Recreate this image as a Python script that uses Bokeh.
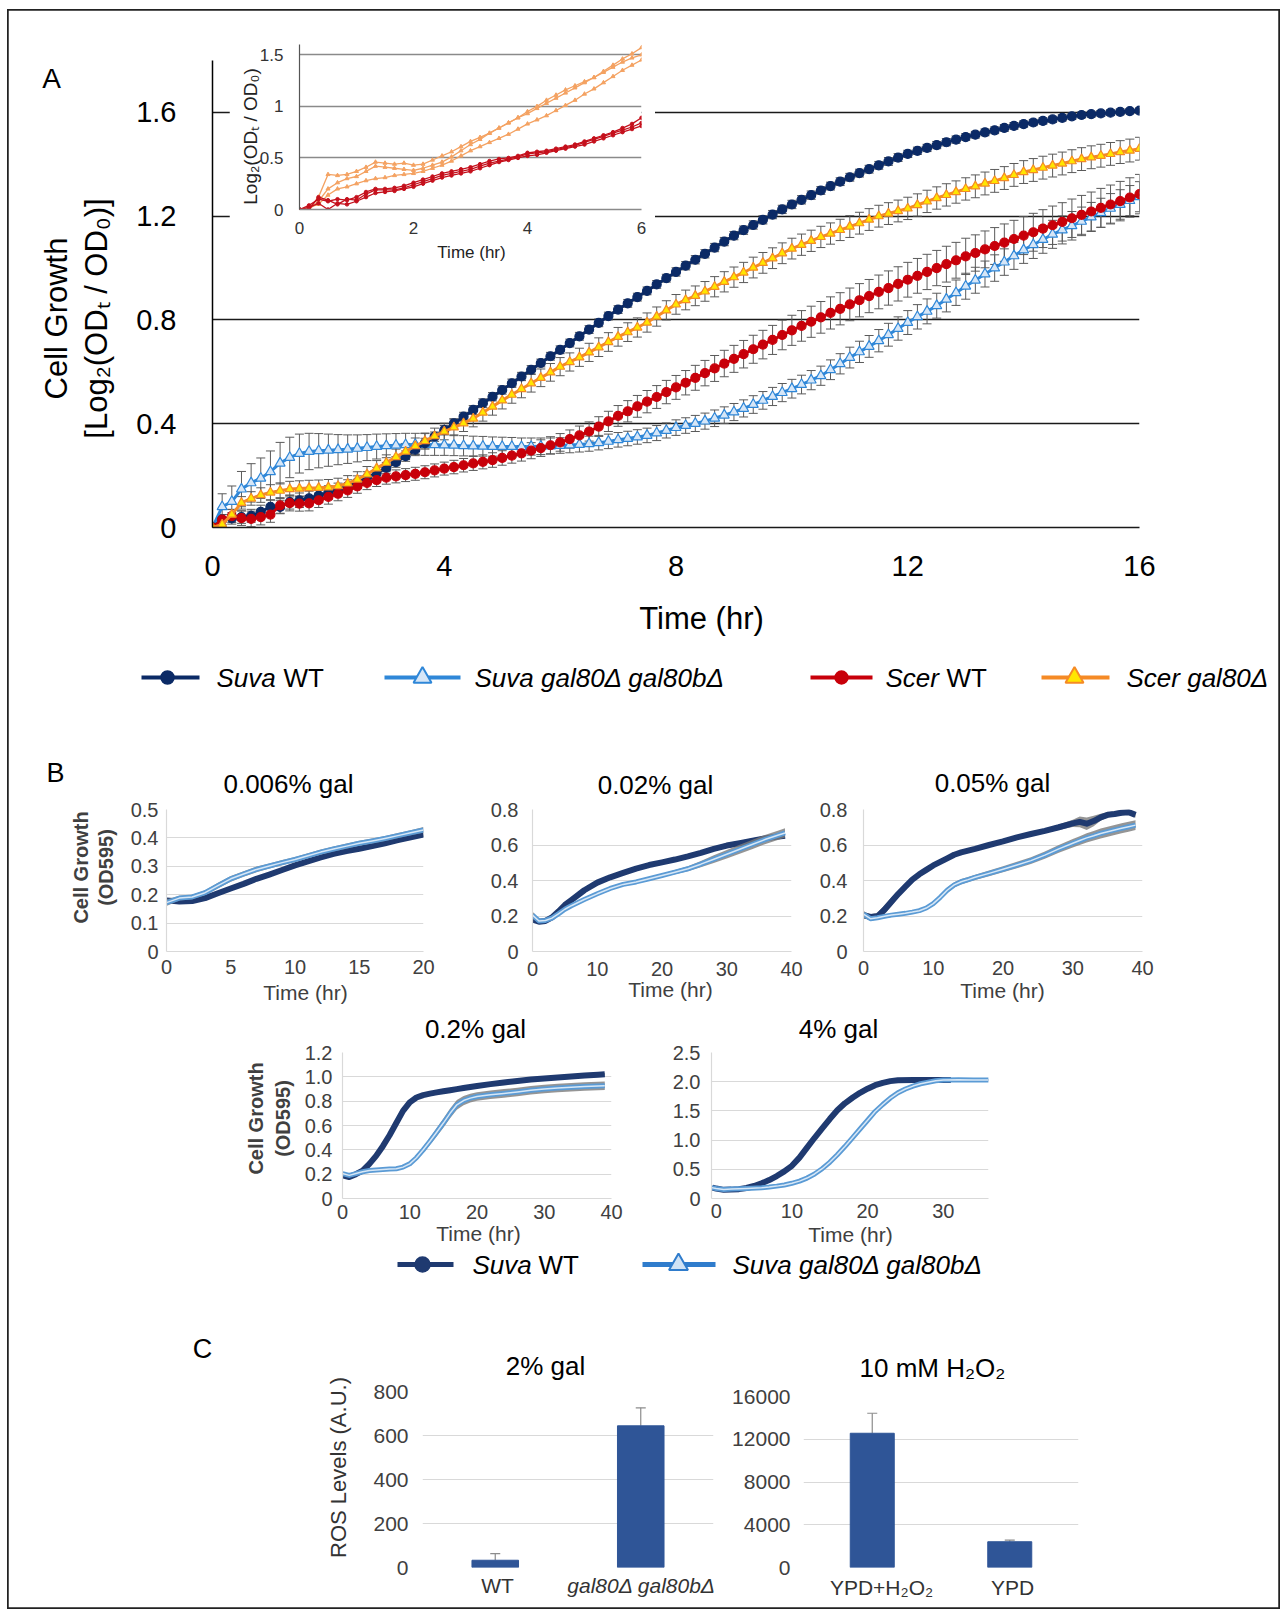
import numpy as np
from bokeh.plotting import figure
from bokeh.models import (Range1d, FactorRange, FixedTicker, ColumnDataSource,
                          Whisker, TeeHead, GridBox)
from bokeh.core.properties import value
from bokeh.embed import file_html
from bokeh.resources import INLINE

FONT = "Liberation Sans"
PAGE_W, PAGE_H = 1282, 1612          # layout box, starts at the page origin
OV_L, OV_T, OV_W, OV_H = 7, 9, 1273, 1600   # framed overlay (border of the figure)

# ======================= DATA =======================
# ---- Panel A (10-min readings, 0-16 h) ----
time_a = np.round(np.arange(97) / 6.0, 4)
a_xticks = [0, 4, 8, 12, 16]
a_yticks = [0, 0.4, 0.8, 1.2, 1.6]
a_ylabels = ["0", "0.4", "0.8", "1.2", "1.6"]

suva_wt = [0.000, 0.030, 0.035, 0.040, 0.045, 0.060, 0.080, 0.079, 0.098, 0.105,
           0.112, 0.123, 0.135, 0.146, 0.160, 0.175, 0.192, 0.210, 0.230, 0.252,
           0.275, 0.300, 0.325, 0.350, 0.375, 0.401, 0.427, 0.453, 0.479, 0.504,
           0.530, 0.556, 0.582, 0.608, 0.634, 0.660, 0.685, 0.711, 0.737, 0.763,
           0.789, 0.815, 0.840, 0.864, 0.888, 0.912, 0.937, 0.961, 0.985, 1.009,
           1.032, 1.055, 1.079, 1.102, 1.125, 1.146, 1.166, 1.186, 1.206, 1.226,
           1.245, 1.263, 1.281, 1.299, 1.316, 1.333, 1.350, 1.366, 1.381, 1.396,
           1.411, 1.426, 1.440, 1.452, 1.463, 1.474, 1.485, 1.495, 1.505, 1.514,
           1.523, 1.531, 1.540, 1.548, 1.555, 1.561, 1.567, 1.573, 1.579, 1.585,
           1.590, 1.593, 1.596, 1.599, 1.602, 1.605, 1.607]
suva_wt_err = [0.000, 0.020, 0.022, 0.024, 0.025, 0.026, 0.027, 0.026, 0.027, 0.028,
               0.028, 0.027, 0.026, 0.025, 0.024, 0.024, 0.023, 0.022, 0.021, 0.020,
               0.020, 0.019, 0.019, 0.018, 0.018, 0.018, 0.017, 0.017, 0.017, 0.016,
               0.016, 0.016, 0.016, 0.016, 0.015, 0.015, 0.015, 0.015, 0.015, 0.015,
               0.015, 0.015, 0.015, 0.015, 0.015, 0.015, 0.015, 0.015, 0.016, 0.016,
               0.016, 0.016, 0.016, 0.016, 0.016, 0.016, 0.016, 0.016, 0.016, 0.016,
               0.016, 0.016, 0.016, 0.015, 0.015, 0.015, 0.015, 0.015, 0.015, 0.015,
               0.015, 0.015, 0.014, 0.014, 0.014, 0.014, 0.014, 0.014, 0.013, 0.013,
               0.013, 0.013, 0.013, 0.013, 0.012, 0.012, 0.012, 0.012, 0.012, 0.012,
               0.011, 0.011, 0.011, 0.011, 0.011, 0.010, 0.010]

suva_gal80 = [0.000, 0.080, 0.100, 0.148, 0.172, 0.190, 0.215, 0.248, 0.270, 0.285,
              0.293, 0.296, 0.298, 0.300, 0.302, 0.305, 0.308, 0.312, 0.315, 0.317,
              0.319, 0.320, 0.320, 0.319, 0.318, 0.317, 0.315, 0.314, 0.313, 0.312,
              0.312, 0.312, 0.311, 0.312, 0.313, 0.314, 0.316, 0.318, 0.320, 0.323,
              0.327, 0.332, 0.338, 0.343, 0.349, 0.355, 0.364, 0.374, 0.385, 0.393,
              0.401, 0.410, 0.421, 0.433, 0.445, 0.459, 0.474, 0.490, 0.505, 0.520,
              0.535, 0.551, 0.568, 0.585, 0.608, 0.631, 0.655, 0.677, 0.698, 0.720,
              0.743, 0.767, 0.790, 0.812, 0.833, 0.855, 0.880, 0.905, 0.930, 0.953,
              0.977, 1.000, 1.023, 1.047, 1.070, 1.090, 1.110, 1.130, 1.147, 1.163,
              1.180, 1.197, 1.213, 1.230, 1.245, 1.260, 1.275]
suva_gal80_err = [0.000, 0.050, 0.060, 0.068, 0.074, 0.078, 0.080, 0.080, 0.078, 0.075,
                  0.070, 0.066, 0.062, 0.058, 0.055, 0.052, 0.050, 0.048, 0.046, 0.045,
                  0.044, 0.043, 0.042, 0.041, 0.040, 0.040, 0.039, 0.038, 0.038, 0.037,
                  0.036, 0.035, 0.034, 0.033, 0.032, 0.031, 0.030, 0.030, 0.029, 0.029,
                  0.028, 0.028, 0.028, 0.028, 0.028, 0.028, 0.029, 0.029, 0.030, 0.030,
                  0.031, 0.031, 0.032, 0.032, 0.033, 0.033, 0.034, 0.034, 0.035, 0.035,
                  0.036, 0.036, 0.037, 0.037, 0.038, 0.039, 0.040, 0.041, 0.042, 0.043,
                  0.044, 0.045, 0.046, 0.047, 0.048, 0.048, 0.049, 0.049, 0.050, 0.050,
                  0.050, 0.051, 0.051, 0.052, 0.052, 0.053, 0.053, 0.054, 0.054, 0.055,
                  0.055, 0.056, 0.056, 0.057, 0.057, 0.058, 0.058]

scer_wt = [0.000, 0.030, 0.044, 0.036, 0.033, 0.040, 0.050, 0.085, 0.094, 0.092,
           0.093, 0.105, 0.118, 0.130, 0.143, 0.158, 0.172, 0.183, 0.192, 0.197,
           0.202, 0.207, 0.213, 0.220, 0.227, 0.233, 0.240, 0.247, 0.253, 0.260,
           0.268, 0.277, 0.286, 0.296, 0.306, 0.317, 0.328, 0.341, 0.355, 0.370,
           0.389, 0.409, 0.430, 0.448, 0.467, 0.485, 0.503, 0.522, 0.540, 0.558,
           0.577, 0.595, 0.613, 0.632, 0.650, 0.668, 0.687, 0.705, 0.723, 0.742,
           0.760, 0.777, 0.793, 0.810, 0.827, 0.843, 0.860, 0.876, 0.892, 0.908,
           0.923, 0.939, 0.955, 0.970, 0.985, 1.000, 1.015, 1.030, 1.045, 1.058,
           1.072, 1.085, 1.098, 1.112, 1.125, 1.138, 1.152, 1.165, 1.178, 1.192,
           1.205, 1.218, 1.232, 1.245, 1.258, 1.272, 1.285]
scer_wt_err = [0.000, 0.020, 0.025, 0.028, 0.030, 0.030, 0.030, 0.030, 0.030, 0.029,
               0.029, 0.028, 0.028, 0.027, 0.027, 0.026, 0.026, 0.025, 0.025, 0.025,
               0.025, 0.025, 0.025, 0.025, 0.025, 0.026, 0.026, 0.027, 0.027, 0.028,
               0.028, 0.029, 0.030, 0.031, 0.032, 0.033, 0.034, 0.035, 0.036, 0.037,
               0.038, 0.039, 0.040, 0.041, 0.042, 0.043, 0.044, 0.045, 0.046, 0.047,
               0.048, 0.049, 0.050, 0.051, 0.052, 0.053, 0.054, 0.055, 0.056, 0.057,
               0.058, 0.059, 0.060, 0.061, 0.062, 0.062, 0.063, 0.064, 0.064, 0.065,
               0.066, 0.066, 0.067, 0.067, 0.068, 0.068, 0.069, 0.069, 0.070, 0.070,
               0.071, 0.071, 0.072, 0.072, 0.073, 0.073, 0.073, 0.074, 0.074, 0.074,
               0.075, 0.075, 0.075, 0.075, 0.076, 0.076, 0.076]

scer_gal80 = [0.000, 0.012, 0.050, 0.095, 0.112, 0.125, 0.135, 0.142, 0.148, 0.150,
              0.152, 0.153, 0.155, 0.160, 0.170, 0.185, 0.205, 0.228, 0.250, 0.272,
              0.293, 0.314, 0.333, 0.352, 0.370, 0.386, 0.402, 0.420, 0.443, 0.466,
              0.490, 0.512, 0.534, 0.556, 0.577, 0.598, 0.620, 0.638, 0.656, 0.675,
              0.695, 0.715, 0.735, 0.753, 0.771, 0.790, 0.813, 0.837, 0.860, 0.877,
              0.893, 0.910, 0.928, 0.947, 0.965, 0.983, 1.002, 1.020, 1.038, 1.057,
              1.075, 1.090, 1.105, 1.120, 1.133, 1.147, 1.160, 1.173, 1.187, 1.200,
              1.210, 1.220, 1.230, 1.243, 1.257, 1.270, 1.282, 1.293, 1.305, 1.315,
              1.326, 1.336, 1.347, 1.359, 1.370, 1.378, 1.387, 1.395, 1.403, 1.412,
              1.420, 1.427, 1.433, 1.440, 1.447, 1.453, 1.460]
scer_gal80_err = [0.000, 0.015, 0.020, 0.024, 0.026, 0.028, 0.030, 0.030, 0.030, 0.030,
                  0.030, 0.030, 0.030, 0.030, 0.030, 0.030, 0.030, 0.030, 0.030, 0.030,
                  0.031, 0.031, 0.031, 0.031, 0.032, 0.032, 0.032, 0.032, 0.033, 0.033,
                  0.033, 0.033, 0.034, 0.034, 0.034, 0.034, 0.035, 0.035, 0.035, 0.035,
                  0.036, 0.036, 0.036, 0.036, 0.037, 0.037, 0.037, 0.037, 0.038, 0.038,
                  0.038, 0.038, 0.039, 0.039, 0.039, 0.039, 0.040, 0.040, 0.040, 0.040,
                  0.040, 0.041, 0.041, 0.041, 0.041, 0.041, 0.042, 0.042, 0.042, 0.042,
                  0.042, 0.042, 0.043, 0.043, 0.043, 0.043, 0.043, 0.043, 0.043, 0.044,
                  0.044, 0.044, 0.044, 0.044, 0.044, 0.044, 0.044, 0.044, 0.044, 0.044,
                  0.044, 0.044, 0.044, 0.044, 0.044, 0.044, 0.044]

# ---- Panel A inset (single replicates, 0-6 h) ----
time_inset = np.round(np.arange(37) / 6.0, 4)
inset_xticks = [0, 2, 4, 6]
inset_yticks = [0, 0.5, 1, 1.5]
inset_ylabels = ["0", "0.5", "1", "1.5"]
scer_gal80_rep1 = [0.00, 0.01, 0.12, 0.34, 0.33, 0.34, 0.37, 0.41, 0.46, 0.45,
                   0.44, 0.45, 0.43, 0.44, 0.48, 0.52, 0.56, 0.61, 0.66, 0.70,
                   0.74, 0.79, 0.84, 0.89, 0.95, 1.00, 1.06, 1.11, 1.16, 1.20,
                   1.24, 1.28, 1.33, 1.38, 1.43, 1.47, 1.50]
scer_gal80_rep2 = [0.00, 0.00, 0.08, 0.20, 0.26, 0.30, 0.32, 0.37, 0.42, 0.41,
                   0.40, 0.39, 0.38, 0.40, 0.43, 0.46, 0.51, 0.57, 0.63, 0.68,
                   0.74, 0.79, 0.84, 0.89, 0.93, 0.98, 1.03, 1.08, 1.13, 1.18,
                   1.23, 1.28, 1.34, 1.40, 1.46, 1.51, 1.57]
scer_gal80_rep3 = [0.00, 0.02, 0.05, 0.14, 0.20, 0.22, 0.25, 0.28, 0.30, 0.31,
                   0.33, 0.34, 0.35, 0.37, 0.40, 0.43, 0.47, 0.52, 0.57, 0.61,
                   0.65, 0.69, 0.73, 0.78, 0.83, 0.87, 0.91, 0.96, 1.01, 1.06,
                   1.12, 1.17, 1.23, 1.29, 1.35, 1.40, 1.45]
scer_wt_rep1 = [0.00, 0.04, 0.10, 0.08, 0.10, 0.09, 0.12, 0.17, 0.20, 0.20,
                0.21, 0.23, 0.26, 0.29, 0.32, 0.35, 0.37, 0.39, 0.41, 0.44,
                0.47, 0.49, 0.50, 0.52, 0.55, 0.56, 0.57, 0.59, 0.61, 0.63,
                0.66, 0.69, 0.72, 0.75, 0.79, 0.83, 0.89]
scer_wt_rep2 = [0.00, 0.00, 0.12, 0.09, 0.05, 0.10, 0.09, 0.15, 0.19, 0.19,
                0.19, 0.21, 0.24, 0.27, 0.30, 0.33, 0.35, 0.37, 0.39, 0.42,
                0.45, 0.47, 0.49, 0.51, 0.54, 0.55, 0.56, 0.58, 0.60, 0.62,
                0.65, 0.68, 0.71, 0.74, 0.77, 0.80, 0.84]
scer_wt_rep3 = [0.00, 0.02, 0.06, 0.00, 0.06, 0.05, 0.08, 0.12, 0.16, 0.17,
                0.18, 0.20, 0.22, 0.25, 0.28, 0.31, 0.33, 0.35, 0.37, 0.40,
                0.43, 0.46, 0.48, 0.50, 0.52, 0.53, 0.55, 0.57, 0.59, 0.61,
                0.63, 0.66, 0.69, 0.72, 0.75, 0.78, 0.81]

# ---- Panel B (OD595 growth curves) ----
b1_time = [0, 1, 2, 3, 4, 5, 6, 7, 8, 9, 10, 11, 12, 13, 14, 15, 16, 17, 18, 19, 20]
b1_wt = [0.180, 0.176, 0.178, 0.188, 0.205, 0.222, 0.238, 0.256, 0.271, 0.287, 0.303,
         0.317, 0.331, 0.344, 0.354, 0.362, 0.371, 0.381, 0.392, 0.402, 0.412]
b1_wt_err = [0.008, 0.006, 0.006, 0.006, 0.007, 0.007, 0.007, 0.007, 0.007, 0.007, 0.007,
             0.007, 0.007, 0.007, 0.007, 0.007, 0.008, 0.008, 0.008, 0.008, 0.008]
b1_mut = [0.172, 0.188, 0.192, 0.207, 0.232, 0.256, 0.273, 0.289, 0.301, 0.313, 0.324,
          0.337, 0.350, 0.361, 0.371, 0.381, 0.389, 0.398, 0.408, 0.418, 0.428]
b1_mut_err = [0.012, 0.008, 0.008, 0.009, 0.010, 0.010, 0.010, 0.010, 0.009, 0.009, 0.009,
              0.009, 0.009, 0.009, 0.009, 0.009, 0.009, 0.009, 0.009, 0.009, 0.010]

b2_time = [0, 1, 2, 3, 4, 5, 6, 8, 10, 12, 14, 16, 18, 20, 22, 24, 26, 28, 30, 32, 34, 36, 38, 39]
b2_wt = [0.180, 0.168, 0.172, 0.192, 0.225, 0.262, 0.290, 0.345, 0.388, 0.418, 0.443, 0.467,
         0.487, 0.502, 0.518, 0.536, 0.556, 0.578, 0.597, 0.610, 0.624, 0.638, 0.648, 0.652]
b2_wt_err = [0.012, 0.008, 0.008, 0.008, 0.008, 0.008, 0.008, 0.008, 0.008, 0.008, 0.008, 0.008,
             0.008, 0.008, 0.008, 0.009, 0.010, 0.012, 0.014, 0.014, 0.014, 0.014, 0.014, 0.014]
b2_mut = [0.205, 0.172, 0.175, 0.188, 0.212, 0.238, 0.258, 0.293, 0.325, 0.355, 0.378, 0.392,
          0.410, 0.428, 0.447, 0.466, 0.492, 0.520, 0.548, 0.576, 0.604, 0.632, 0.656, 0.668]
b2_mut_err = [0.020, 0.010, 0.008, 0.008, 0.008, 0.008, 0.008, 0.008, 0.008, 0.008, 0.008, 0.008,
              0.008, 0.010, 0.012, 0.014, 0.018, 0.022, 0.024, 0.025, 0.026, 0.026, 0.026, 0.026]

b3_time = [0, 1, 2, 3, 4, 5, 6, 7, 8, 9, 10, 11, 12, 13, 14, 15, 16, 18, 20, 22, 24, 26, 28,
           30, 31, 32, 33, 34, 35, 36, 37, 38, 39]
b3_wt = [0.205, 0.195, 0.198, 0.235, 0.280, 0.325, 0.365, 0.405, 0.435, 0.460, 0.485,
         0.505, 0.525, 0.545, 0.558, 0.568, 0.578, 0.600, 0.620, 0.643, 0.662, 0.680,
         0.700, 0.722, 0.730, 0.720, 0.735, 0.756, 0.770, 0.775, 0.782, 0.785, 0.770]
b3_wt_err = [0.020, 0.015, 0.020, 0.025, 0.025, 0.020, 0.012, 0.010, 0.010, 0.010, 0.010,
             0.010, 0.010, 0.010, 0.010, 0.010, 0.010, 0.010, 0.010, 0.010, 0.010, 0.012,
             0.015, 0.020, 0.030, 0.035, 0.030, 0.020, 0.015, 0.015, 0.015, 0.015, 0.015]
b3_mut = [0.210, 0.185, 0.190, 0.198, 0.205, 0.210, 0.215, 0.222, 0.230, 0.245, 0.270,
          0.305, 0.345, 0.375, 0.393, 0.405, 0.418, 0.440, 0.463, 0.487, 0.512, 0.543,
          0.578, 0.610, 0.625, 0.640, 0.652, 0.665, 0.675, 0.685, 0.694, 0.703, 0.712]
b3_mut_err = [0.020, 0.012, 0.010, 0.010, 0.010, 0.010, 0.010, 0.010, 0.010, 0.010, 0.012,
              0.014, 0.015, 0.015, 0.015, 0.015, 0.015, 0.016, 0.017, 0.018, 0.019, 0.020,
              0.022, 0.024, 0.025, 0.026, 0.027, 0.028, 0.028, 0.028, 0.028, 0.028, 0.028]

b4_time = [0, 1, 2, 3, 4, 5, 6, 7, 8, 9, 10, 11, 12, 13, 14, 15, 16, 17, 18, 19, 20, 22,
           24, 26, 28, 30, 32, 34, 36, 38, 39]
b4_wt = [0.190, 0.176, 0.200, 0.230, 0.285, 0.350, 0.430, 0.520, 0.620, 0.720, 0.790,
         0.830, 0.850, 0.862, 0.872, 0.881, 0.890, 0.899, 0.908, 0.917, 0.925, 0.940,
         0.954, 0.966, 0.978, 0.987, 0.995, 1.002, 1.010, 1.018, 1.022]
b4_wt_err = [0.012, 0.008, 0.008, 0.008, 0.010, 0.010, 0.010, 0.010, 0.010, 0.010, 0.010,
             0.010, 0.010, 0.010, 0.010, 0.010, 0.010, 0.010, 0.010, 0.010, 0.010, 0.010,
             0.010, 0.010, 0.010, 0.010, 0.010, 0.010, 0.010, 0.010, 0.010]
b4_mut = [0.205, 0.190, 0.205, 0.220, 0.230, 0.235, 0.238, 0.242, 0.245, 0.258, 0.285,
          0.335, 0.400, 0.470, 0.545, 0.620, 0.700, 0.770, 0.805, 0.825, 0.838, 0.852,
          0.864, 0.876, 0.889, 0.900, 0.908, 0.915, 0.920, 0.925, 0.926]
b4_mut_err = [0.015, 0.010, 0.010, 0.010, 0.010, 0.010, 0.010, 0.010, 0.010, 0.012, 0.015,
              0.020, 0.025, 0.030, 0.035, 0.038, 0.040, 0.040, 0.038, 0.036, 0.035, 0.035,
              0.035, 0.035, 0.035, 0.035, 0.035, 0.035, 0.035, 0.035, 0.035]

b5_time_wt = [-0.5, 0, 1, 2, 3, 4, 5, 6, 7, 8, 9, 10, 11, 12, 13, 14, 15, 16, 17, 18, 19,
              20, 21, 22, 23, 24, 26, 28, 30, 31]
b5_wt = [0.186, 0.170, 0.148, 0.152, 0.160, 0.180, 0.214, 0.260, 0.315, 0.385, 0.465,
         0.560, 0.700, 0.870, 1.040, 1.200, 1.360, 1.510, 1.630, 1.725, 1.810, 1.880,
         1.940, 1.980, 2.010, 2.025, 2.030, 2.030, 2.030, 2.030]
b5_wt_err = [0.015, 0.012, 0.010, 0.010, 0.010, 0.010, 0.010, 0.010, 0.010, 0.010, 0.010,
             0.010, 0.010, 0.010, 0.010, 0.010, 0.010, 0.010, 0.010, 0.010, 0.010, 0.010,
             0.010, 0.010, 0.010, 0.010, 0.010, 0.010, 0.010, 0.010]
b5_time_mut = [-0.6, 0, 1, 2, 4, 6, 7, 8, 9, 10, 11, 12, 13, 14, 15, 16, 17, 18, 19, 20,
               21, 22, 23, 24, 25, 26, 27, 28, 29, 30, 32, 34, 36]
b5_mut = [0.186, 0.170, 0.155, 0.162, 0.172, 0.185, 0.197, 0.212, 0.232, 0.260, 0.298,
          0.350, 0.420, 0.510, 0.620, 0.750, 0.890, 1.040, 1.190, 1.340, 1.490, 1.610,
          1.720, 1.810, 1.875, 1.925, 1.965, 1.990, 2.015, 2.030, 2.035, 2.030, 2.030]
b5_mut_err = [0.015, 0.012, 0.010, 0.010, 0.010, 0.010, 0.010, 0.012, 0.014, 0.016, 0.018,
              0.020, 0.024, 0.028, 0.032, 0.036, 0.040, 0.042, 0.042, 0.040, 0.038, 0.035,
              0.030, 0.026, 0.022, 0.018, 0.015, 0.013, 0.012, 0.012, 0.012, 0.012, 0.012]

# ---- Panel C (ROS levels) ----
c1_labels = ["WT", "gal80\u0394 gal80b\u0394"]
c1_values = [33, 644]
c1_err = [30, 82]
c1_yticks = [0, 200, 400, 600, 800]
c2_labels = ["YPD+H\u2082O\u2082", "YPD"]
c2_values = [12560, 2410]
c2_err = [1875, 160]
c2_yticks = [0, 4000, 8000, 12000, 16000]

# ======================= STYLE =======================
NAVY_A = "#0b2a66"
BLUE_A = "#2f87d8"
BLUE_A_FILL = "#d6e6f7"
RED_A = "#c8000a"
ORANGE_A = "#f58a25"
YELLOW_A = "#ffe600"
ORANGE_IN = "#f4a262"
RED_IN = "#c5101c"
NAVY_B = "#1f3a70"
BLUE_B = "#5b9bd5"
BLUE_B_CORE = "#d7e7f6"
BAR_C = "#2f5597"
ERR_GRAY = "#5a5a5a"

placed = []


def chart(box, frame, x_range, y_range):
    left, top, right, bottom = box
    fl, ft, fr, fb = frame
    p = figure(width=right - left, height=bottom - top, x_range=x_range, y_range=y_range,
               min_border_left=fl - left, min_border_right=right - fr,
               min_border_top=ft - top, min_border_bottom=bottom - fb,
               toolbar_location=None, output_backend="svg", title=None)
    p.background_fill_alpha = 0
    p.border_fill_alpha = 0
    p.outline_line_color = None
    p.xgrid.visible = False
    p.axis.major_tick_out = 0
    p.axis.major_tick_in = 0
    p.axis.minor_tick_out = 0
    p.axis.minor_tick_in = 0
    p.axis.major_tick_line_color = None
    p.axis.minor_tick_line_color = None
    p.axis.major_label_text_font = FONT
    placed.append((p, left, top, right - left, bottom - top))
    return p


# ---------------- Panel A main ----------------
pa = chart((100, 40, 1160, 600), (212, 60, 1139, 527), Range1d(0, 16), Range1d(0, 1.8))
pa.xaxis.ticker = FixedTicker(ticks=a_xticks)
pa.yaxis.ticker = FixedTicker(ticks=a_yticks)
pa.yaxis.major_label_overrides = dict(zip(a_yticks, a_ylabels))
pa.ygrid.grid_line_color = "#1a1a1a"
pa.ygrid.grid_line_width = 1.5
pa.yaxis.axis_line_color = "#000000"
pa.yaxis.axis_line_width = 1.5
pa.xaxis.axis_line_color = "#1a1a1a"
pa.xaxis.axis_line_width = 1.5
pa.axis.major_label_text_font_size = "29px"
pa.axis.major_label_text_color = "#000000"
pa.xaxis.major_label_standoff = 28
pa.yaxis.major_label_standoff = 36


def a_series(y, err, color, marker, fill, size, edge):
    y = np.array(y)
    err = np.array(err)
    src = ColumnDataSource(dict(t=time_a, y=y, lo=y - err, hi=y + err))
    pa.add_layout(Whisker(source=src, base="t", lower="lo", upper="hi",
                          line_color=ERR_GRAY, line_width=1, level="underlay",
                          upper_head=TeeHead(size=9, line_color=ERR_GRAY, line_width=1),
                          lower_head=TeeHead(size=9, line_color=ERR_GRAY, line_width=1)))
    pa.line("t", "y", source=src, line_color=color, line_width=3)
    pa.scatter("t", "y", source=src, marker=marker, size=size, fill_color=fill,
               line_color=edge, line_width=1.2)


a_series(suva_gal80, suva_gal80_err, BLUE_A, "triangle", BLUE_A_FILL, 10, BLUE_A)
a_series(suva_wt, suva_wt_err, NAVY_A, "circle", NAVY_A, 9, NAVY_A)
a_series(scer_wt, scer_wt_err, RED_A, "circle", RED_A, 9, RED_A)
a_series(scer_gal80, scer_gal80_err, ORANGE_A, "triangle", YELLOW_A, 9, ORANGE_A)

# ---------------- Panel A inset ----------------
pi = chart((229, 36, 655, 263), (299, 44, 641, 209), Range1d(0, 6), Range1d(0, 1.6))
pi.background_fill_color = "white"
pi.background_fill_alpha = 1
pi.border_fill_color = "white"
pi.border_fill_alpha = 1
pi.xaxis.ticker = FixedTicker(ticks=inset_xticks)
pi.yaxis.ticker = FixedTicker(ticks=inset_yticks)
pi.yaxis.major_label_overrides = dict(zip(inset_yticks, inset_ylabels))
pi.ygrid.grid_line_color = "#8a8a8a"
pi.ygrid.grid_line_width = 1.5
pi.yaxis.axis_line_color = "#555555"
pi.yaxis.axis_line_width = 1.2
pi.xaxis.axis_line_color = "#8a8a8a"
pi.xaxis.axis_line_width = 1.5
pi.axis.major_label_text_font_size = "17px"
pi.axis.major_label_text_color = "#333333"
pi.xaxis.major_label_standoff = 12
pi.yaxis.major_label_standoff = 16

for rep in (scer_gal80_rep1, scer_gal80_rep2, scer_gal80_rep3):
    pi.line(time_inset, rep, line_color=ORANGE_IN, line_width=1.3)
    pi.scatter(time_inset, rep, marker="triangle", size=4, color=ORANGE_IN)
for rep in (scer_wt_rep1, scer_wt_rep2, scer_wt_rep3):
    pi.line(time_inset, rep, line_color=RED_IN, line_width=1.3)
    pi.scatter(time_inset, rep, marker="circle", size=3.5, color=RED_IN)


# ---------------- Panel B ----------------
def b_chart(box, frame, xr, yr, xticks, yticks, ylabels, xstand, ystand):
    p = chart(box, frame, Range1d(*xr), Range1d(*yr))
    p.xaxis.ticker = FixedTicker(ticks=xticks)
    p.yaxis.ticker = FixedTicker(ticks=yticks)
    p.yaxis.major_label_overrides = dict(zip(yticks, ylabels))
    p.ygrid.grid_line_color = "#d9d9d9"
    p.ygrid.grid_line_width = 1.2
    p.axis.axis_line_color = "#d9d9d9"
    p.axis.axis_line_width = 1.2
    p.axis.major_label_text_font_size = "20px"
    p.axis.major_label_text_color = "#404040"
    p.xaxis.major_label_standoff = xstand
    p.yaxis.major_label_standoff = ystand
    return p


def b_draw(p, t_wt, wt, wt_err, t_mut, mut, mut_err):
    wt = np.array(wt); wt_err = np.array(wt_err)
    mut = np.array(mut); mut_err = np.array(mut_err)
    p.varea(x=t_wt, y1=wt - wt_err, y2=wt + wt_err, fill_color="#7a7a7a", fill_alpha=0.8)
    p.line(t_wt, wt, line_color=NAVY_B, line_width=6, line_join="round")
    p.varea(x=t_mut, y1=mut - mut_err, y2=mut + mut_err, fill_color="#7a7a7a", fill_alpha=0.8)
    p.line(t_mut, mut, line_color=BLUE_B, line_width=5, line_join="round")
    p.line(t_mut, mut, line_color=BLUE_B_CORE, line_width=1.5, line_join="round")


b1 = b_chart((120, 790, 440, 985), (166, 809, 423, 952), (0, 20), (0, 0.5),
             [0, 5, 10, 15, 20], [0, 0.1, 0.2, 0.3, 0.4, 0.5],
             ["0", "0.1", "0.2", "0.3", "0.4", "0.5"], 8, 8)
b_draw(b1, b1_time, b1_wt, b1_wt_err, b1_time, b1_mut, b1_mut_err)

b2 = b_chart((480, 790, 810, 985), (532, 809, 791, 952), (0, 40), (0, 0.8),
             [0, 10, 20, 30, 40], [0, 0.2, 0.4, 0.6, 0.8],
             ["0", "0.2", "0.4", "0.6", "0.8"], 10, 14)
b_draw(b2, b2_time, b2_wt, b2_wt_err, b2_time, b2_mut, b2_mut_err)

b3 = b_chart((810, 790, 1165, 985), (863, 809, 1142, 951), (0, 40), (0, 0.8),
             [0, 10, 20, 30, 40], [0, 0.2, 0.4, 0.6, 0.8],
             ["0", "0.2", "0.4", "0.6", "0.8"], 9, 16)
b_draw(b3, b3_time, b3_wt, b3_wt_err, b3_time, b3_mut, b3_mut_err)

b4 = b_chart((290, 1035, 630, 1230), (342, 1052, 611, 1198), (0, 40), (0, 1.2),
             [0, 10, 20, 30, 40], [0, 0.2, 0.4, 0.6, 0.8, 1.0, 1.2],
             ["0", "0.2", "0.4", "0.6", "0.8", "1.0", "1.2"], 6, 10)
b_draw(b4, b4_time, b4_wt, b4_wt_err, b4_time, b4_mut, b4_mut_err)

b5 = b_chart((660, 1035, 1005, 1230), (711, 1052, 988, 1199), (-0.62, 35.97), (0, 2.5),
             [0, 10, 20, 30], [0, 0.5, 1.0, 1.5, 2.0, 2.5],
             ["0", "0.5", "1.0", "1.5", "2.0", "2.5"], 5, 11)
b_draw(b5, b5_time_wt, b5_wt, b5_wt_err, b5_time_mut, b5_mut, b5_mut_err)


# ---------------- Panel C ----------------
def c_chart(box, frame, labels, vals, errs, yticks, ystand):
    p = chart(box, frame, FactorRange(*labels), Range1d(0, yticks[-1]))
    p.yaxis.ticker = FixedTicker(ticks=yticks)
    p.ygrid.grid_line_color = "#d9d9d9"
    p.ygrid.grid_line_width = 1.2
    p.yaxis.axis_line_color = None
    p.yaxis.major_label_text_font_size = "21px"
    p.yaxis.major_label_text_color = "#404040"
    p.yaxis.major_label_standoff = ystand
    p.xaxis.visible = False
    vals = np.array(vals, dtype=float)
    errs = np.array(errs, dtype=float)
    src = ColumnDataSource(dict(x=labels, top=vals, up=vals + errs))
    p.vbar(x="x", top="top", width=0.32, source=src, fill_color=BAR_C, line_color=BAR_C)
    p.add_layout(Whisker(source=src, base="x", lower="top", upper="up",
                         line_color="#8c8c8c", line_width=1.2, lower_head=None,
                         upper_head=TeeHead(size=10, line_color="#8c8c8c", line_width=1.2)))
    return p


c1 = c_chart((370, 1375, 718, 1580), (422, 1391, 713, 1567), c1_labels, c1_values, c1_err,
             c1_yticks, 14)
c2 = c_chart((715, 1380, 1090, 1580), (803, 1396, 1078, 1567), c2_labels, c2_values, c2_err,
             c2_yticks, 13)

# ---------------- Overlay (page texts, legends, border) ----------------
ov = figure(width=OV_W, height=OV_H, x_range=Range1d(0, OV_W), y_range=Range1d(0, OV_H),
            min_border=0, x_axis_location=None, y_axis_location=None,
            toolbar_location=None, output_backend="svg", title=None)
ov.grid.visible = False
ov.background_fill_alpha = 0
ov.border_fill_alpha = 0
ov.outline_line_color = "#222222"
ov.outline_line_width = 2.5


def ox(x):
    return x - OV_L


def oy(y):
    return OV_T + OV_H - y


def txt(x, y, s, size, style="normal", align="center", angle=0.0, color="#000000"):
    ov.text(x=[ox(x)], y=[oy(y)], text=[s], angle=angle,
            text_font=value(FONT), text_font_size=value(f"{size}px"),
            text_font_style=value(style), text_align=value(align),
            text_baseline=value("middle"), text_color=value(color))


def leg_line(x0, x1, y, color, width):
    ov.line(x=[ox(x0), ox(x1)], y=[oy(y)] * 2, line_color=color, line_width=width)


def leg_mark(x, y, marker, size, fill, edge, lw=1.5):
    ov.scatter(x=[ox(x)], y=[oy(y)], marker=marker, size=size,
               fill_color=fill, line_color=edge, line_width=lw)


HALF_PI = np.pi / 2

# Panel A texts
txt(51, 78, "A", 28)
txt(56, 318, "Cell Growth", 31, angle=HALF_PI)
txt(96, 318, "[Log\u2082(OD\u209c / OD\u2080)]", 31, angle=HALF_PI)
txt(701, 618, "Time (hr)", 31)
txt(250, 136, "Log\u2082(OD\u209c / OD\u2080)", 19, angle=HALF_PI, color="#222222")
txt(471, 252, "Time (hr)", 17, color="#222222")

# Panel A legend
LY = 677
leg_line(141, 199, LY, NAVY_A, 4)
leg_mark(167, LY, "circle", 13, NAVY_A, NAVY_A)
txt(216, LY, "Suva", 26, style="italic", align="left")
txt(283, LY, "WT", 26, align="left")
leg_line(384, 460, LY, BLUE_A, 4)
leg_mark(422, LY, "triangle", 18, BLUE_A_FILL, BLUE_A, 2)
txt(474, LY, "Suva gal80\u0394 gal80b\u0394", 26, style="italic", align="left")
leg_line(810, 872, LY, RED_A, 4)
leg_mark(841, LY, "circle", 13, RED_A, RED_A)
txt(885, LY, "Scer", 26, style="italic", align="left")
txt(946, LY, "WT", 26, align="left")
leg_line(1041, 1109, LY, ORANGE_A, 4)
leg_mark(1074, LY, "triangle", 18, YELLOW_A, ORANGE_A, 2)
txt(1126, LY, "Scer gal80\u0394", 26, style="italic", align="left")

# Panel B texts
txt(55, 772, "B", 27)
txt(288, 783, "0.006% gal", 26)
txt(655, 784, "0.02% gal", 26)
txt(992, 782, "0.05% gal", 26)
txt(475, 1028, "0.2% gal", 26)
txt(838, 1028, "4% gal", 26)
txt(305, 992, "Time (hr)", 21, color="#404040")
txt(670, 989, "Time (hr)", 21, color="#404040")
txt(1002, 990, "Time (hr)", 21, color="#404040")
txt(478, 1233, "Time (hr)", 21, color="#404040")
txt(850, 1234, "Time (hr)", 21, color="#404040")
for (x1, x2, yc) in ((80, 105, 867), (255, 282, 1118)):
    txt(x1, yc, "Cell Growth", 20, style="bold", angle=HALF_PI, color="#404040")
    txt(x2, yc, "(OD595)", 20, style="bold", angle=HALF_PI, color="#404040")

# Panel B legend
BY = 1264
leg_line(397, 453, BY, NAVY_B, 5)
leg_mark(422, BY, "circle", 15, NAVY_B, NAVY_B)
txt(472, BY, "Suva", 26, style="italic", align="left")
txt(538, BY, "WT", 26, align="left")
leg_line(642, 715, BY, "#2f7ccc", 5)
leg_mark(678, BY, "triangle", 19, "#cfe2f5", "#2f7ccc", 2)
txt(732, BY, "Suva gal80\u0394 gal80b\u0394", 26, style="italic", align="left")

# Panel C texts
txt(202, 1348, "C", 27)
txt(545, 1365, "2% gal", 26)
txt(932, 1367, "10 mM H\u2082O\u2082", 26)
txt(338, 1467, "ROS Levels (A.U.)", 22, angle=HALF_PI, color="#333333")
txt(497, 1585, c1_labels[0], 21, color="#333333")
txt(641, 1585, c1_labels[1], 21, style="italic", color="#333333")
txt(881, 1587, c2_labels[0], 21, color="#333333")
txt(1012, 1587, c2_labels[1], 21, color="#333333")

# ---------------- Layout (absolute placement via CSS grid) ----------------
items = list(placed)
items.append((ov, OV_L, OV_T, OV_W, OV_H))
xs = sorted({0, PAGE_W} | {l for _, l, _, _, _ in items} | {l + w for _, l, _, w, _ in items})
ys = sorted({0, PAGE_H} | {t for _, _, t, _, _ in items} | {t + h for _, _, t, _, h in items})
cols = [f"{b - a}px" for a, b in zip(xs[:-1], xs[1:])]
rows = [f"{b - a}px" for a, b in zip(ys[:-1], ys[1:])]
children = []
for p, l, t, w, h in items:
    r0, r1 = ys.index(t), ys.index(t + h)
    c0, c1_ = xs.index(l), xs.index(l + w)
    children.append((p, r0, c0, r1 - r0, c1_ - c0))

grid = GridBox(children=children, rows=rows, cols=cols, spacing=0)

with open("out.html", "w", encoding="utf-8") as f:
    f.write(file_html(grid, INLINE, "Growth curves"))
